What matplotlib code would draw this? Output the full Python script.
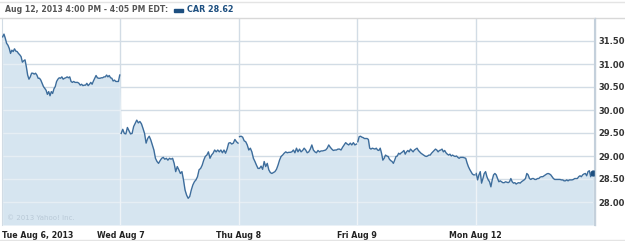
import matplotlib
matplotlib.use("Agg")
import matplotlib.pyplot as plt
from matplotlib.lines import Line2D
import numpy as np

# CAR intraday prices, one list per trading day
tue = [31.59, 31.65, 31.56, 31.45, 31.41, 31.34, 31.23, 31.30, 31.27, 31.33, 31.28, 31.27,
       31.23, 31.20, 31.16, 31.04, 31.07, 31.09, 30.94, 30.76, 30.67, 30.72, 30.80, 30.80,
       30.78, 30.80, 30.76, 30.69, 30.69, 30.65, 30.58, 30.51, 30.47, 30.43, 30.34, 30.40,
       30.31, 30.40, 30.36, 30.46, 30.51, 30.62, 30.67, 30.70, 30.69, 30.72, 30.67, 30.69,
       30.70, 30.72, 30.70, 30.72, 30.62, 30.60, 30.62, 30.60, 30.60, 30.60, 30.58, 30.54,
       30.56, 30.53, 30.54, 30.54, 30.58, 30.53, 30.56, 30.60, 30.56, 30.63, 30.69, 30.75,
       30.70, 30.69, 30.69, 30.70, 30.70, 30.72, 30.72, 30.76, 30.72, 30.75, 30.70, 30.69,
       30.63, 30.65, 30.62, 30.62, 30.62, 30.76]
wed = [29.49, 29.58, 29.49, 29.48, 29.62, 29.55, 29.48, 29.49, 29.64, 29.71, 29.78, 29.72,
       29.75, 29.70, 29.60, 29.49, 29.28, 29.38, 29.43, 29.35, 29.24, 29.13, 28.95, 28.88,
       28.84, 28.90, 28.95, 28.97, 28.93, 28.95, 28.91, 28.95, 28.93, 28.95, 28.84, 28.66,
       28.77, 28.70, 28.62, 28.66, 28.48, 28.26, 28.15, 28.08, 28.12, 28.26, 28.37, 28.44,
       28.48, 28.55, 28.70, 28.73, 28.80, 28.91, 28.99, 29.02, 29.09, 28.95, 29.02, 29.06,
       29.13, 29.09, 29.13, 29.09, 29.13, 29.07, 29.13, 29.06, 29.15, 29.28, 29.29, 29.26,
       29.28, 29.36, 29.31, 29.28]
thu = [29.42, 29.43, 29.41, 29.33, 29.31, 29.24, 29.13, 29.17, 29.09, 28.95, 28.88, 28.80,
       28.73, 28.73, 28.78, 28.71, 28.88, 28.77, 28.84, 28.70, 28.64, 28.62, 28.64, 28.66,
       28.71, 28.80, 28.91, 28.99, 29.02, 29.06, 29.09, 29.07, 29.08, 29.08, 29.09, 29.13,
       29.07, 29.17, 29.09, 29.15, 29.09, 29.12, 29.17, 29.13, 29.07, 29.09, 29.15, 29.24,
       29.13, 29.09, 29.07, 29.12, 29.09, 29.11, 29.11, 29.12, 29.13, 29.17, 29.24, 29.19,
       29.15, 29.12, 29.13, 29.13, 29.15, 29.15, 29.13, 29.19, 29.24, 29.29, 29.26, 29.24,
       29.28, 29.24, 29.29, 29.24, 29.26]
fri = [29.31, 29.42, 29.43, 29.41, 29.40, 29.38, 29.38, 29.38, 29.36, 29.17, 29.15, 29.17,
       29.16, 29.15, 29.17, 29.13, 29.12, 29.17, 29.06, 28.91, 28.95, 29.02, 29.00, 28.99,
       28.93, 28.90, 28.88, 28.84, 28.91, 28.99, 29.00, 29.06, 29.04, 29.07, 29.09, 29.12,
       29.04, 29.09, 29.12, 29.09, 29.15, 29.12, 29.09, 29.13, 29.15, 29.17, 29.12, 29.09,
       29.06, 29.04, 29.02, 29.00, 28.99, 29.00, 29.02, 29.02, 29.06, 29.09, 29.12, 29.15,
       29.13, 29.09, 29.12, 29.13, 29.15, 29.09, 29.12, 29.07, 29.04, 29.02, 29.04, 29.00,
       29.02, 29.00, 28.99, 29.00, 28.97, 28.95, 28.97, 28.97, 28.97, 28.96, 28.95, 28.85,
       28.77, 28.71, 28.66, 28.61, 28.59, 28.59]
mon = [28.62, 28.48, 28.59, 28.66, 28.41, 28.51, 28.62, 28.66, 28.55, 28.48, 28.44, 28.33,
       28.48, 28.59, 28.62, 28.59, 28.51, 28.44, 28.46, 28.44, 28.42, 28.42, 28.44, 28.43,
       28.42, 28.44, 28.51, 28.44, 28.41, 28.42, 28.39, 28.41, 28.42, 28.41, 28.44, 28.46,
       28.48, 28.51, 28.62, 28.59, 28.51, 28.49, 28.51, 28.51, 28.49, 28.49, 28.51, 28.51,
       28.54, 28.55, 28.55, 28.57, 28.59, 28.61, 28.62, 28.61, 28.59, 28.55, 28.51, 28.49,
       28.49, 28.49, 28.49, 28.49, 28.48, 28.48, 28.46, 28.46, 28.48, 28.46, 28.48, 28.48,
       28.48, 28.49, 28.51, 28.51, 28.51, 28.55, 28.57, 28.55, 28.59, 28.61, 28.62, 28.57,
       28.66, 28.68, 28.55, 28.61, 28.62]
days = [tue, wed, thu, fri, mon]
day_labels = ["Tue Aug 6, 2013", "Wed Aug 7", "Thu Aug 8", "Fri Aug 9", "Mon Aug 12"]
y_ticks = [28.0, 28.5, 29.0, 29.5, 30.0, 30.5, 31.0, 31.5]
header = "Aug 12, 2013 4:00 PM - 4:05 PM EDT:"
legend_label = "CAR 28.62"

line_col = "#3d6d9c"
fill_col = "#d6e5f0"
grid_col = "#d2dce5"

xs, ys = [], []
for d, vals in enumerate(days):
    n = len(vals)
    xs.append(d + (np.arange(n) + 0.5) / n)
    ys.append(np.array(vals))
x_all = np.concatenate(xs)
y_all = np.concatenate(ys)

fig = plt.figure(figsize=(6.25, 2.41), dpi=100)
W, H = 625, 241
ax = fig.add_axes([2 / W, 16 / H, 592 / W, 207 / H])
ax.set_xlim(0, 5)
ax.set_ylim(27.5, 32.0)

# gray grid on white background
for yv in y_ticks:
    ax.axhline(yv, color=grid_col, lw=1, zorder=0)
for d in range(1, 5):
    ax.axvline(d, color=grid_col, lw=1, zorder=0)

poly = ax.fill_between(x_all, 27.5, y_all, color=fill_col, lw=0, zorder=1)
# lighter grid lines inside the filled area
clip = poly.get_paths()[0]
for yv in y_ticks:
    ln = ax.axhline(yv, color="#e6eef4", lw=1, zorder=2)
    ln.set_clip_path(clip, ax.transData)
for d in range(1, 5):
    ln = ax.axvline(d, color="#eef3f7", lw=1, zorder=2)
    ln.set_clip_path(clip, ax.transData)

for xd, yd in zip(xs, ys):
    ax.plot(xd, yd, color=line_col, lw=1.0, zorder=3)
ax.plot(x_all[-1], y_all[-1], "o", color="#1d4f80", ms=3.5, zorder=4)

ax.set_xticks(range(5))
ax.set_xticklabels(day_labels, fontsize=5.7, fontweight="bold", color="#222222")
ax.get_xticklabels()[0].set_horizontalalignment("left")
ax.yaxis.tick_right()
ax.set_yticks(y_ticks)
ax.set_yticklabels([f"{v:.2f}" for v in y_ticks], fontsize=6.0, fontweight="bold",
                   color="#333333")
ax.tick_params(length=0, pad=3)
ax.tick_params(axis="x", pad=4)

for s in ["top", "bottom"]:
    ax.spines[s].set_visible(False)
ax.spines["left"].set_color("#d2dce5")
ax.spines["right"].set_color("#c4d0db")

ax.text(0.008, 0.02, "\u00a9 2013 Yahoo! Inc.", transform=ax.transAxes, fontsize=5,
        color="#b9c9d7", va="bottom")

# header strip
fig.add_artist(Line2D([0, 1], [1 - 18 / H, 1 - 18 / H], color="#d8d8d8", lw=1))
fig.add_artist(Line2D([0, 1], [1 - 1.5 / H, 1 - 1.5 / H], color="#e4e4e4", lw=1))
fig.add_artist(Line2D([0, 1], [1.5 / H, 1.5 / H], color="#e4e4e4", lw=1))
fig.add_artist(Line2D([594.5 / W, 594.5 / W], [16 / H, 1 - 18 / H], color="#c4d0db", lw=1))
fig.text(5 / W, 1 - 10 / H, header, fontsize=5.6, fontweight="bold", color="#555555",
         va="center")
fig.patches.append(plt.Rectangle((174 / W, 1 - 12 / H), 9 / W, 3 / H,
                                 transform=fig.transFigure, color="#1d4f80"))
fig.text(187 / W, 1 - 10 / H, legend_label, fontsize=5.8, fontweight="bold",
         color="#1d4f80", va="center")

fig.savefig("out.png", dpi=100)
